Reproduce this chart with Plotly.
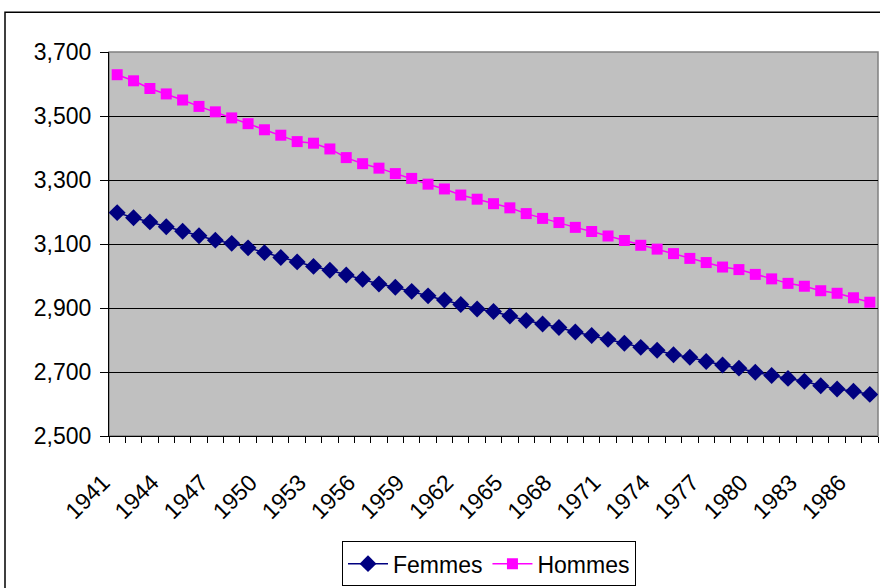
import plotly.graph_objects as go

# Annual series, 1941-1987
years = list(range(1941, 1988))
femmes = [3198, 3182, 3169, 3154, 3140, 3126, 3112, 3102, 3088, 3073,
          3058, 3044, 3030, 3018, 3003, 2990, 2975, 2965, 2952, 2938,
          2925, 2911, 2897, 2889, 2875, 2861, 2850, 2839, 2825, 2814,
          2802, 2790, 2777, 2768, 2754, 2746, 2733, 2722, 2712, 2699,
          2689, 2680, 2671, 2657, 2647, 2640, 2630]
hommes = [3629, 3610, 3586, 3569, 3550, 3530, 3513, 3494, 3476, 3457,
          3440, 3420, 3415, 3397, 3370, 3351, 3337, 3320, 3305, 3287,
          3272, 3253, 3240, 3226, 3213, 3195, 3180, 3167, 3152, 3139,
          3125, 3111, 3096, 3084, 3070, 3055, 3042, 3028, 3020, 3005,
          2991, 2977, 2968, 2954, 2946, 2932, 2918]
label_years = list(range(1941, 1988, 3))
y_ticks = [2500, 2700, 2900, 3100, 3300, 3500, 3700]

FONT = "Liberation Sans, Arial, sans-serif"

fig = go.Figure()
fig.add_trace(go.Scatter(
    x=years, y=femmes, name="Femmes", mode="lines+markers",
    line=dict(color="#000080", width=1.5),
    marker=dict(symbol="diamond", size=13, color="#000080"),
))
fig.add_trace(go.Scatter(
    x=years, y=hommes, name="Hommes", mode="lines+markers",
    line=dict(color="#FF00FF", width=1.5),
    marker=dict(symbol="square", size=11, color="#FF00FF"),
))

L, R, T, B = 109, 2, 52, 149
W, H = 880, 588
pw, ph = W - L - R, H - T - B

def px_x(p):
    return (p - L) / pw

def px_y(p):
    return (H - B - p) / ph

fig.update_layout(
    width=W, height=H,
    margin=dict(l=L, r=R, t=T, b=B),
    paper_bgcolor="white",
    plot_bgcolor="#C0C0C0",
    font=dict(family=FONT, size=22, color="black"),
    showlegend=True,
    legend=dict(
        orientation="h", x=px_x(489), xanchor="center",
        y=px_y(545), yanchor="top",
        bordercolor="black", borderwidth=1, bgcolor="white",
        font=dict(size=23), itemwidth=40,
    ),
    xaxis=dict(
        range=[1940.5, 1987.5],
        tickmode="array", tickvals=label_years,
        ticktext=[str(v) for v in label_years],
        tickangle=-45, ticks="", showgrid=False, zeroline=False,
        showline=True, linecolor="black", linewidth=1,
        tickfont=dict(size=23),
        ticklabelstandoff=23,
        ticklabelshift=-14,
        minor=dict(tickmode="linear", tick0=1940.5, dtick=1,
                   ticks="outside", ticklen=6, tickcolor="black",
                   showgrid=False),
    ),
    yaxis=dict(
        range=[2500, 3700],
        tickmode="array", tickvals=y_ticks,
        tickformat=",d",
        ticks="outside", ticklen=8, tickcolor="black",
        showgrid=True, gridcolor="black", gridwidth=1,
        zeroline=False, showline=True, linecolor="black", linewidth=1,
        tickfont=dict(size=23),
        ticklabelstandoff=4,
    ),
    shapes=[
        # outer chart frame
        dict(type="rect", xref="paper", yref="paper",
             x0=px_x(5), x1=px_x(886), y0=px_y(596), y1=px_y(12),
             line=dict(color="black", width=1.5), fillcolor="rgba(0,0,0,0)",
             layer="below"),
        # plot area border
        dict(type="rect", xref="paper", yref="paper",
             x0=0, x1=1, y0=0, y1=1,
             line=dict(color="#808080", width=1.5), layer="below"),
    ],
)

fig.write_html("out.html")
